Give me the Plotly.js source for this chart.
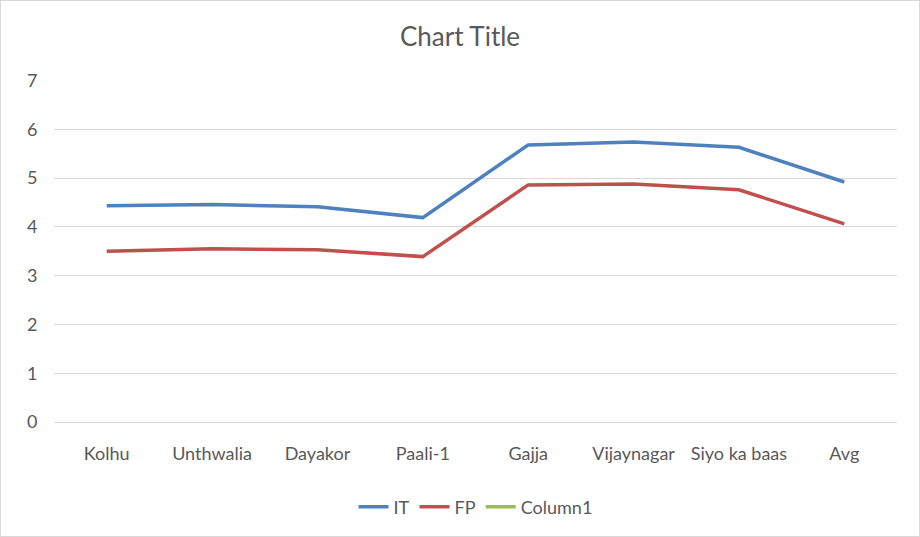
<!DOCTYPE html>
<html>
<head>
<meta charset="utf-8">
<script src="https://cdn.plot.ly/plotly-3.0.1.min.js"></script>
<style>
html,body{margin:0;padding:0;background:#fff;}
#wrap{position:absolute;left:0;top:0;width:918px;height:535px;border:1px solid #d9d9d9;}
#chart{width:918px;height:535px;}
</style>
</head>
<body>
<div id="wrap"><div id="chart"></div></div>
<script>
const categories = ["Kolhu","Unthwalia","Dayakor","Paali-1","Gajja","Vijaynagar","Siyo ka baas","Avg"];
const itValues = [4.43, 4.46, 4.41, 4.19, 5.68, 5.74, 5.63, 4.92];
const fpValues = [3.50, 3.55, 3.53, 3.39, 4.86, 4.88, 4.76, 4.06];
const column1Values = [null, null, null, null, null, null, null, null];
const yTicks = [0,1,2,3,4,5,6,7];

const font = "Lato, 'Open Sans', sans-serif";
const traces = [
  {x: categories, y: itValues, name: "IT", type: "scatter", mode: "lines",
   line: {color: "#4f81bd", width: 3.5}},
  {x: categories, y: fpValues, name: "FP", type: "scatter", mode: "lines",
   line: {color: "#c0504d", width: 3.5}},
  {x: categories, y: column1Values, name: "Column1", type: "scatter", mode: "lines",
   line: {color: "#9bbb59", width: 3.5}, showlegend: true}
];
const layout = {
  width: 918, height: 535,
  margin: {l: 53, r: 22, t: 78.5, b: 113.3},
  paper_bgcolor: "#fff", plot_bgcolor: "#fff",
  font: {family: font, color: "#595959", size: 18},
  title: {text: "Chart Title", font: {family: font, size: 26, color: "#595959"},
          x: 0.5, xanchor: "center", y: 0.933, yanchor: "middle"},
  xaxis: {type: "category", range: [-0.5, 7.5], showgrid: false, zeroline: false, showline: false,
          ticks: "outside", ticklen: 15, tickcolor: "rgba(0,0,0,0)",
          tickfont: {family: font, size: 18, color: "#595959"}},
  yaxis: {range: [0, 7.01], tickvals: yTicks, showgrid: true, gridcolor: "#d9d9d9", gridwidth: 1,
          zeroline: true, zerolinecolor: "#d9d9d9", zerolinewidth: 1, showline: false,
          ticks: "outside", ticklen: 12, tickcolor: "rgba(0,0,0,0)",
          tickfont: {family: font, size: 18, color: "#595959"}},
  legend: {orientation: "h", x: 0.5, xanchor: "center", y: -0.245, yanchor: "middle",
           font: {family: font, size: 18, color: "#595959"}},
  showlegend: true
};
Plotly.newPlot("chart", traces, layout, {displayModeBar: false, staticPlot: true});
</script>
</body>
</html>
